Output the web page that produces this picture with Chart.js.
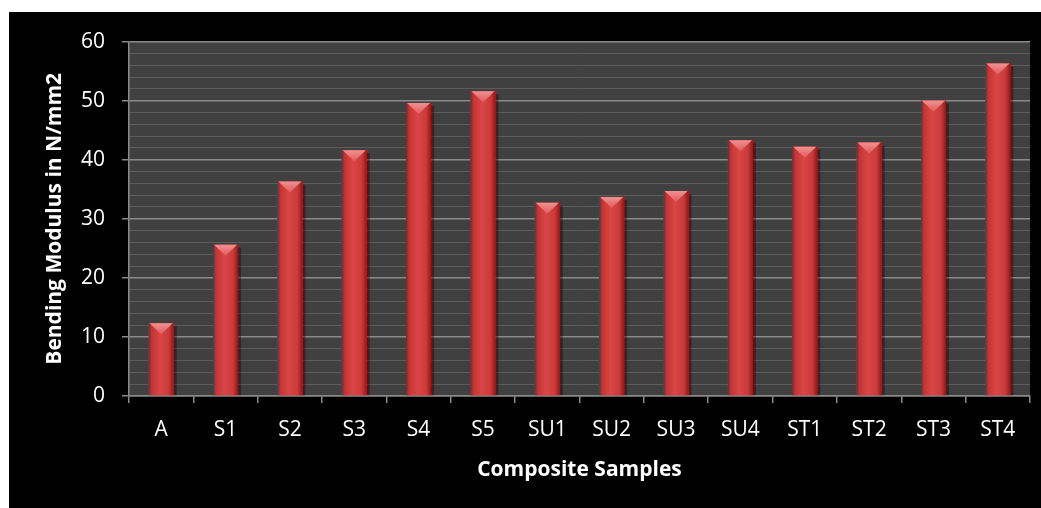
<!DOCTYPE html>
<html>
<head>
<meta charset="utf-8">
<script src="https://cdn.jsdelivr.net/npm/chart.js@4"></script>
<style>
  html, body { margin: 0; padding: 0; background: #fff; }
  #frame { position: absolute; left: 9px; top: 12px; width: 1032px; height: 496px; background: #000; }
  #frame canvas { display: block; }
</style>
</head>
<body>
<div id="frame"><canvas id="modulusChart" width="1032" height="496"></canvas></div>
<script>
const samples = ['A', 'S1', 'S2', 'S3', 'S4', 'S5', 'SU1', 'SU2', 'SU3', 'SU4', 'ST1', 'ST2', 'ST3', 'ST4'];
const bendingModulus = [12.3, 25.6, 36.3, 41.6, 49.6, 51.6, 32.7, 33.7, 34.7, 43.3, 42.2, 42.9, 50.0, 56.3];
const yMax = 60;
const yStep = 2;      // minor grid every 2, labels every 10
const yLabelStep = 10;

const fontFamily = '"Open Sans", Lato, sans-serif';

// dark plot panel behind the grid
const plotPanel = {
  id: 'plotPanel',
  beforeDraw(chart) {
    const { ctx, chartArea: a } = chart;
    ctx.save();
    ctx.fillStyle = '#404040';
    ctx.fillRect(a.left, a.top, a.right - a.left, a.bottom - a.top);
    ctx.restore();
  }
};

// shaded, bevel-topped look for each bar
const barShading = {
  id: 'barShading',
  afterDatasetsDraw(chart) {
    const ctx = chart.ctx;
    chart.getDatasetMeta(0).data.forEach(bar => {
      const { x, y, base, width } = bar.getProps(['x', 'y', 'base', 'width'], true);
      const l = x - width / 2, r = x + width / 2;
      ctx.save();
      // soft shadow on the right
      ctx.fillStyle = 'rgba(0,0,0,0.35)';
      ctx.fillRect(r, y + 3, 3, base - y - 3);
      const g = ctx.createLinearGradient(l, 0, r, 0);
      g.addColorStop(0, '#8e1c1c');
      g.addColorStop(0.12, '#c43434');
      g.addColorStop(0.45, '#da4545');
      g.addColorStop(0.8, '#c93b3b');
      g.addColorStop(1, '#8a1a1a');
      ctx.fillStyle = g;
      ctx.fillRect(l, y, width, base - y);
      // bevel on the top face
      const h = Math.min(11, (base - y) / 2);
      const tg = ctx.createLinearGradient(0, y, 0, y + h);
      tg.addColorStop(0, '#f29090');
      tg.addColorStop(1, '#e05c5c');
      ctx.fillStyle = tg;
      ctx.beginPath();
      ctx.moveTo(l + 1, y);
      ctx.lineTo(r - 1, y);
      ctx.lineTo(x, y + h);
      ctx.closePath();
      ctx.fill();
      ctx.restore();
    });
  }
};

const isMajor = v => Math.abs(v % yLabelStep) < 1e-6;

new Chart(document.getElementById('modulusChart'), {
  type: 'bar',
  data: {
    labels: samples,
    datasets: [{
      data: bendingModulus,
      backgroundColor: '#c83a3a',
      barPercentage: 0.39,
      categoryPercentage: 1
    }]
  },
  options: {
    responsive: false,
    animation: false,
    layout: { padding: { top: 27, right: 11, left: 0, bottom: 0 } },
    plugins: {
      legend: { display: false },
      tooltip: { enabled: false }
    },
    scales: {
      x: {
        grid: { display: true, drawOnChartArea: false, offset: true, tickLength: 7, color: '#8a8a8a', lineWidth: 1.5 },
        border: { color: '#8a8a8a', width: 1.5 },
        ticks: { color: '#fff', font: { family: fontFamily, size: 21 }, padding: 14 },
        title: { display: true, text: 'Composite Samples', color: '#fff', font: { family: fontFamily, size: 21, weight: 'bold' }, padding: { top: 4, bottom: 25 } },
        afterFit(scale) { scale.height = 112; }
      },
      y: {
        min: 0,
        max: yMax,
        ticks: {
          stepSize: yStep,
          autoSkip: false,
          color: '#fff',
          font: { family: fontFamily, size: 21 },
          padding: 17,
          callback: v => isMajor(v) ? v : ''
        },
        grid: {
          color: c => isMajor(c.tick.value) ? '#8a8a8a' : '#5c5c5c',
          lineWidth: c => isMajor(c.tick.value) ? 1.5 : 1,
          tickColor: c => isMajor(c.tick.value) ? '#8a8a8a' : 'rgba(0,0,0,0)',
          tickLength: 7
        },
        border: { color: '#8a8a8a', width: 1.5 },
        title: { display: true, text: 'Bending Modulus in N/mm2', color: '#fff', font: { family: fontFamily, size: 21, weight: 'bold' }, padding: { top: 33, bottom: 0 } },
        afterFit(scale) { scale.width = 120; }
      }
    }
  },
  plugins: [plotPanel, barShading]
});
</script>
</body>
</html>
